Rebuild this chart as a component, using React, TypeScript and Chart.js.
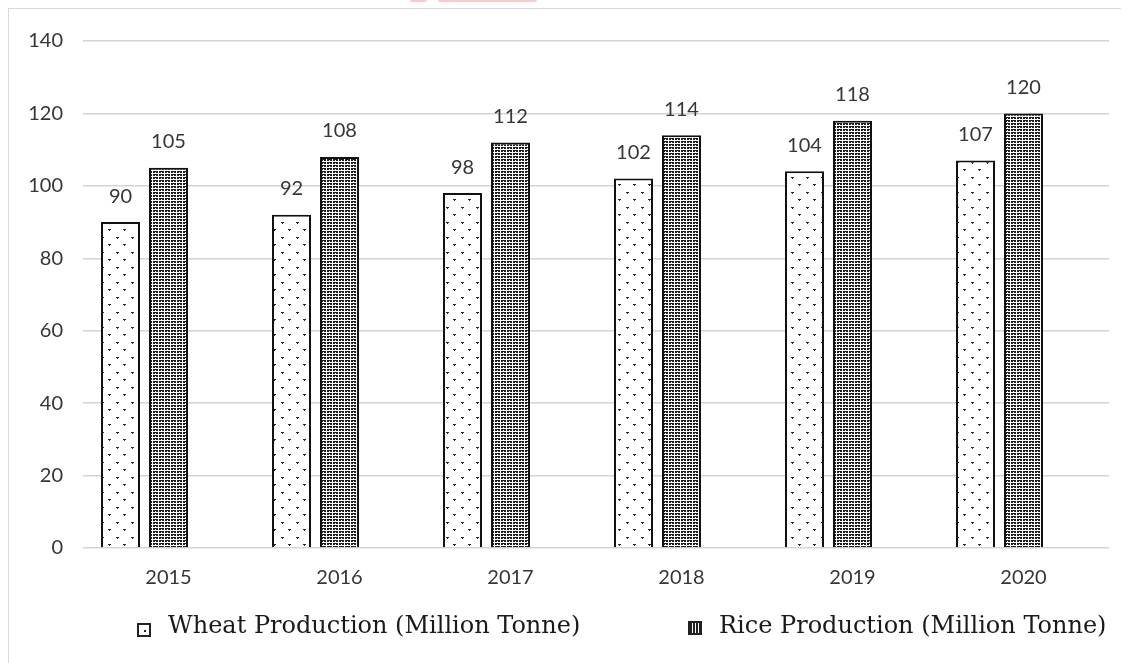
import React, { useEffect, useRef } from "react";
import { Chart, registerables } from "chart.js";

Chart.register(...registerables);

const years: string[] = ["2015", "2016", "2017", "2018", "2019", "2020"];
const wheatValues: number[] = [90, 92, 98, 102, 104, 107];
const riceValues: number[] = [105, 108, 112, 114, 118, 120];
const emptySeries: (number | null)[] = [null, null, null, null, null, null];
const seriesNames: string[] = ["Wheat Production (Million Tonne)", "Rice Production (Million Tonne)"];
const yMin = 0;
const yMax = 140;
const yStep = 20;

const LABEL_FONT = "Lato, 'Open Sans', sans-serif";
const TEXT_GRAY = "#363636";

function makeWheatTile(): HTMLCanvasElement {
  const c = document.createElement("canvas");
  c.width = 15;
  c.height = 15;
  const g = c.getContext("2d")!;
  g.fillStyle = "#ffffff";
  g.fillRect(0, 0, 15, 15);
  g.fillStyle = "#2a2a2a";
  const dot = (x: number, y: number) => {
    g.fillRect(x, y, 3, 1);
    g.fillRect(x + 1, y + 1, 1, 1);
  };
  dot(2, 3);
  dot(9, 10);
  return c;
}

function makeRiceTile(): HTMLCanvasElement {
  const c = document.createElement("canvas");
  c.width = 6;
  c.height = 6;
  const g = c.getContext("2d")!;
  g.fillStyle = "#ffffff";
  g.fillRect(0, 0, 6, 6);
  g.fillStyle = "#1e1e1e";
  for (let y = 0; y < 6; y++) {
    for (let x = 0; x < 6; x++) {
      const dark = (x % 3 !== 2 && y % 3 !== 2) || (x === 2 && y % 3 === 0);
      if (dark) g.fillRect(x, y, 1, 1);
    }
  }
  return c;
}

const valueLabels = {
  id: "valueLabels",
  afterDatasetsDraw(chart: any) {
    const ctx = chart.ctx;
    ctx.save();
    ctx.font = `20px ${LABEL_FONT}`;
    ctx.fillStyle = TEXT_GRAY;
    ctx.textAlign = "center";
    ctx.textBaseline = "middle";
    [0, 1].forEach((di) => {
      const meta = chart.getDatasetMeta(di);
      const data = chart.data.datasets[di].data;
      meta.data.forEach((el: any, i: number) => {
        const v = data[i];
        if (v == null) return;
        ctx.fillText(String(v), el.x, el.y - 26);
      });
    });
    ctx.restore();
  },
};

function WheatMarker() {
  return (
    <div
      style={{
        position: "absolute",
        left: 128,
        top: 614,
        width: 10,
        height: 10,
        border: "2px solid #222",
        background: "#fff",
      }}
    >
      <div style={{ position: "absolute", left: 5, top: 5, width: 2, height: 2, background: "#222" }} />
    </div>
  );
}

function RiceMarker() {
  return (
    <div
      style={{
        position: "absolute",
        left: 679,
        top: 612,
        width: 10,
        height: 10,
        border: "2px solid #222",
        backgroundColor: "#fff",
        backgroundImage:
          "repeating-linear-gradient(90deg, #222 0 2px, #fff 2px 3px), repeating-linear-gradient(0deg, #fff 0 1px, transparent 1px 3px)",
      }}
    />
  );
}

const legendTextStyle: React.CSSProperties = {
  position: "absolute",
  top: 602,
  fontFamily: "'DejaVu Serif', serif",
  fontSize: 24,
  lineHeight: "28px",
  color: "#1a1a1a",
  whiteSpace: "nowrap",
};

export default function App() {
  const canvasRef = useRef<HTMLCanvasElement | null>(null);

  useEffect(() => {
    const canvas = canvasRef.current;
    if (!canvas) return;
    const ctx = canvas.getContext("2d")!;
    const wheatPattern = ctx.createPattern(makeWheatTile(), "repeat")!;
    const ricePattern = ctx.createPattern(makeRiceTile(), "repeat")!;

    const chart = new Chart(canvas, {
      type: "bar",
      data: {
        labels: years,
        datasets: [
          {
            label: seriesNames[0],
            data: wheatValues,
            backgroundColor: wheatPattern as any,
            borderColor: "#111111",
            borderWidth: 2,
            borderSkipped: "start",
          },
          {
            label: seriesNames[1],
            data: riceValues,
            backgroundColor: ricePattern as any,
            borderColor: "#111111",
            borderWidth: 2,
            borderSkipped: "start",
          },
          {
            label: "",
            data: emptySeries,
            backgroundColor: "transparent",
          },
        ],
      },
      options: {
        animation: false,
        responsive: true,
        maintainAspectRatio: false,
        datasets: {
          bar: {
            categoryPercentage: 0.842,
            barPercentage: 0.8125,
          },
        },
        layout: { padding: { top: 28, right: 20, left: 0, bottom: 0 } },
        plugins: {
          legend: { display: false },
          tooltip: { enabled: false },
          title: { display: false },
        },
        scales: {
          x: {
            grid: { display: false, drawTicks: false },
            border: { display: false },
            ticks: {
              color: TEXT_GRAY,
              font: { family: LABEL_FONT, size: 20 },
              padding: 18,
            },
            afterFit: (scale: any) => {
              scale.height = 61;
            },
          },
          y: {
            min: yMin,
            max: yMax,
            grid: { color: "#d4d4d4", lineWidth: 1.5, drawTicks: false },
            border: { display: false },
            ticks: {
              stepSize: yStep,
              color: TEXT_GRAY,
              font: { family: LABEL_FONT, size: 20 },
              padding: 20,
            },
            afterFit: (scale: any) => {
              scale.width = 74;
            },
          },
        },
      },
      plugins: [valueLabels],
    });
    return () => chart.destroy();
  }, []);

  return (
    <div
      style={{
        position: "relative",
        width: 1121,
        height: 655,
        boxSizing: "border-box",
        borderTop: "1px solid #d9d9d9",
        borderLeft: "1px solid #d9d9d9",
        overflow: "hidden",
      }}
    >
      <div style={{ position: "fixed", top: 0, left: 410, width: 17, height: 2, background: "#f7cccc", borderRadius: "0 0 4px 4px" }} />
      <div style={{ position: "fixed", top: 0, left: 438, width: 99, height: 2, background: "#f7cccc", borderRadius: "0 0 4px 4px" }} />
      <div style={{ position: "relative", width: 1120, height: 600 }}>
        <canvas ref={canvasRef} />
      </div>
      <WheatMarker />
      <div style={{ ...legendTextStyle, left: 159 }}>{seriesNames[0]}</div>
      <RiceMarker />
      <div style={{ ...legendTextStyle, left: 710 }}>{seriesNames[1]}</div>
    </div>
  );
}
